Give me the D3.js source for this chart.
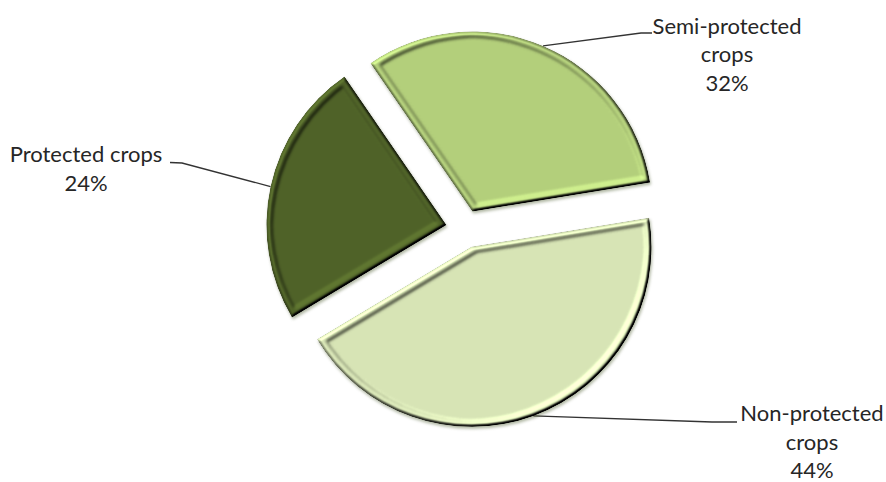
<!DOCTYPE html>
<html>
<head>
<meta charset="utf-8">
<script src="https://cdn.jsdelivr.net/npm/d3@7"></script>
<style>
  html, body { margin: 0; padding: 0; background: #fff; }
  svg { display: block; }
  .lbl { font-family: Lato, "Open Sans", sans-serif; font-size: 22px; fill: #262626; }
</style>
</head>
<body>
<svg id="chart" width="886" height="482"></svg>
<script>
// Share of cultivated area by protection type
const categories = ["Non-protected crops", "Protected crops", "Semi-protected crops"];
const shares = [44, 24, 32];
const labelLines = [["Non-protected", "crops"], ["Protected crops"], ["Semi-protected", "crops"]];
const fills = ["#d7e4b5", "#4f6228", "#b3cf7b"];

// Layout
const W = 886, H = 482;
const cx = 465, cy = 229, R = 180, explode = 19;
const startDeg = 80.7;
const lineH = 28.5;
// label block: centre x, first baseline; leader: elbow and end point near the label
const labelPos = [
  { x: 812, y: 421, elbow: [712, 422], end: [737, 422] },
  { x: 86,  y: 162, elbow: [182, 163], end: [170, 162.5] },
  { x: 727, y: 33.5, elbow: [641, 33], end: [652, 33] }
];

const lightElev = 55;

const svg = d3.select("#chart");
const defs = svg.append("defs");

// raised-rim bevel: ridge height map lit from the top-left, plus a soft shadow
const f = defs.append("filter").attr("id", "bevel")
  .attr("x", "-10%").attr("y", "-10%").attr("width", "120%").attr("height", "120%")
  .attr("color-interpolation-filters", "sRGB");
f.append("feGaussianBlur").attr("in", "SourceAlpha").attr("stdDeviation", 1.5).attr("result", "outerRamp");
f.append("feMorphology").attr("in", "SourceAlpha").attr("operator", "erode").attr("radius", 5).attr("result", "inset");
f.append("feGaussianBlur").attr("in", "inset").attr("stdDeviation", 1.4).attr("result", "innerRamp");
f.append("feComposite").attr("in", "outerRamp").attr("in2", "innerRamp").attr("operator", "arithmetic")
  .attr("k1", 0).attr("k2", 1).attr("k3", -0.3).attr("k4", 0).attr("result", "ridge");
const dl = f.append("feDiffuseLighting").attr("in", "ridge").attr("surfaceScale", 4)
  .attr("diffuseConstant", 1).attr("lighting-color", "#ffffff").attr("result", "shade");
dl.append("feDistantLight").attr("azimuth", 225).attr("elevation", lightElev);
f.append("feComposite").attr("in", "SourceGraphic").attr("in2", "shade").attr("operator", "arithmetic")
  .attr("k1", 1 / Math.sin(lightElev * Math.PI / 180)).attr("k2", 0).attr("k3", 0).attr("k4", 0).attr("result", "lit");
f.append("feComposite").attr("in", "lit").attr("in2", "SourceAlpha").attr("operator", "in").attr("result", "face");
f.append("feGaussianBlur").attr("in", "SourceAlpha").attr("stdDeviation", 1.6).attr("result", "sb");
f.append("feOffset").attr("in", "sb").attr("dx", 1).attr("dy", 1.5).attr("result", "so");
f.append("feFlood").attr("flood-color", "#3a4a1a").attr("flood-opacity", 0.4).attr("result", "sc");
f.append("feComposite").attr("in", "sc").attr("in2", "so").attr("operator", "in").attr("result", "shadow");
const merge = f.append("feMerge");
merge.append("feMergeNode").attr("in", "shadow");
merge.append("feMergeNode").attr("in", "face");

const data = categories.map((c, i) => ({ name: c, value: shares[i], fill: fills[i], lines: labelLines[i], pos: labelPos[i] }));

const start = startDeg * Math.PI / 180;
const pie = d3.pie().value(d => d.value).sort(null).startAngle(start).endAngle(start + 2 * Math.PI);
const arc = d3.arc().innerRadius(0).outerRadius(R);
const arcs = pie(data);

const offsetOf = a => {
  const m = (a.startAngle + a.endAngle) / 2;
  return [cx + explode * Math.sin(m), cy - explode * Math.cos(m)];
};

// leader lines
const line = d3.line();
svg.append("g").selectAll("path").data(arcs).join("path")
  .attr("d", a => {
    const [ox, oy] = offsetOf(a);
    const m = (a.startAngle + a.endAngle) / 2;
    const p0 = [ox + R * Math.sin(m), oy - R * Math.cos(m)];
    return line([p0, a.data.pos.elbow, a.data.pos.end]);
  })
  .attr("fill", "none").attr("stroke", "#333").attr("stroke-width", 1.3);

// slices
svg.append("g").selectAll("path").data(arcs).join("path")
  .attr("transform", a => `translate(${offsetOf(a)})`)
  .attr("d", arc)
  .attr("fill", a => a.data.fill)
  .attr("filter", "url(#bevel)");

// labels
const lg = svg.append("g").selectAll("text").data(data).join("text")
  .attr("class", "lbl").attr("text-anchor", "middle")
  .attr("x", d => d.pos.x).attr("y", d => d.pos.y);
lg.each(function (d) {
  const t = d3.select(this);
  const rows = d.lines.concat([`${d.value}%`]);
  rows.forEach((r, i) => t.append("tspan").attr("x", d.pos.x).attr("dy", i === 0 ? 0 : lineH).text(r));
});
</script>
</body>
</html>
